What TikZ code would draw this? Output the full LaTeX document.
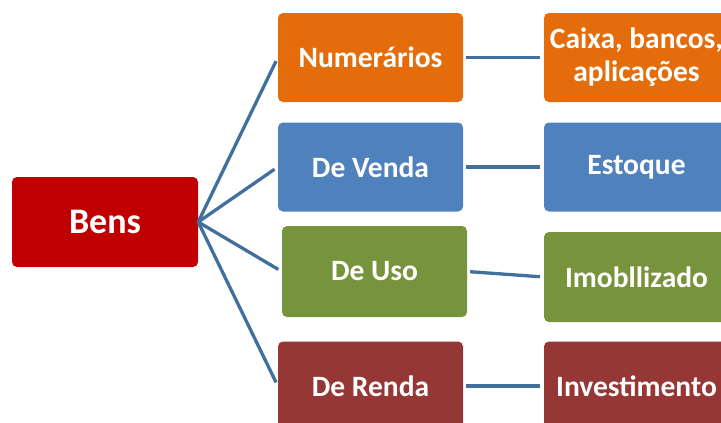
\documentclass[tikz,border=0pt]{standalone}
\usepackage{fontspec}
\setmainfont{Carlito}
\definecolor{cred}{HTML}{C00000}
\definecolor{corange}{HTML}{E46C0A}
\definecolor{cblue}{HTML}{4F81BD}
\definecolor{cgreen}{HTML}{77933C}
\definecolor{cdred}{HTML}{953735}
\definecolor{cline}{HTML}{41709F}
\tikzset{
  box/.style={rounded corners=5pt, inner sep=0pt, minimum width=185pt, minimum height=89pt,
    text=white, font=\bfseries\fontsize{29.5}{33}\selectfont, align=center},
  link/.style={draw=cline, line width=3.3pt}
}
\begin{document}
\begin{tikzpicture}[x=1pt,y=-1pt]
\useasboundingbox (0,0) rectangle (721,423);
\clip (0,0) rectangle (721,423);
\node[box, fill=cred, minimum width=186pt, minimum height=90pt, font=\bfseries\fontsize{36}{40}\selectfont] (bens) at (105,222) {Bens};
\node[box, fill=corange] (num) at (370.5,57.5) {Numerários};
\node[box, fill=cblue] (ven) at (370.5,167) {De Venda};
\node[box, fill=cgreen, minimum height=91pt] (uso) at (374.5,271.5) {De Uso};
\node[box, fill=cdred] (ren) at (370.5,386) {De Renda};
\node[box, fill=corange] (cai) at (636.5,57.5) {Caixa, bancos,\\aplicações};
\node[box, fill=cblue] (est) at (636.5,167) {Estoque};
\node[box, fill=cgreen, minimum height=90pt] (imo) at (636.5,277) {Imobllizado};
\node[box, fill=cdred] (inv) at (636.5,386) {Investimento};
\foreach \t in {num,ven,uso,ren}
  \draw[link, shorten >=4pt] (bens.east) -- (\t.west);
\draw[link, shorten >=4pt, shorten <=3pt] (num.east) -- (cai.west);
\draw[link, shorten >=4pt, shorten <=3pt] (ven.east) -- (est.west);
\draw[link, shorten >=4pt, shorten <=3pt] (uso.east) -- (imo.west);
\draw[link, shorten >=4pt, shorten <=3pt] (ren.east) -- (inv.west);
\end{tikzpicture}
\end{document}
